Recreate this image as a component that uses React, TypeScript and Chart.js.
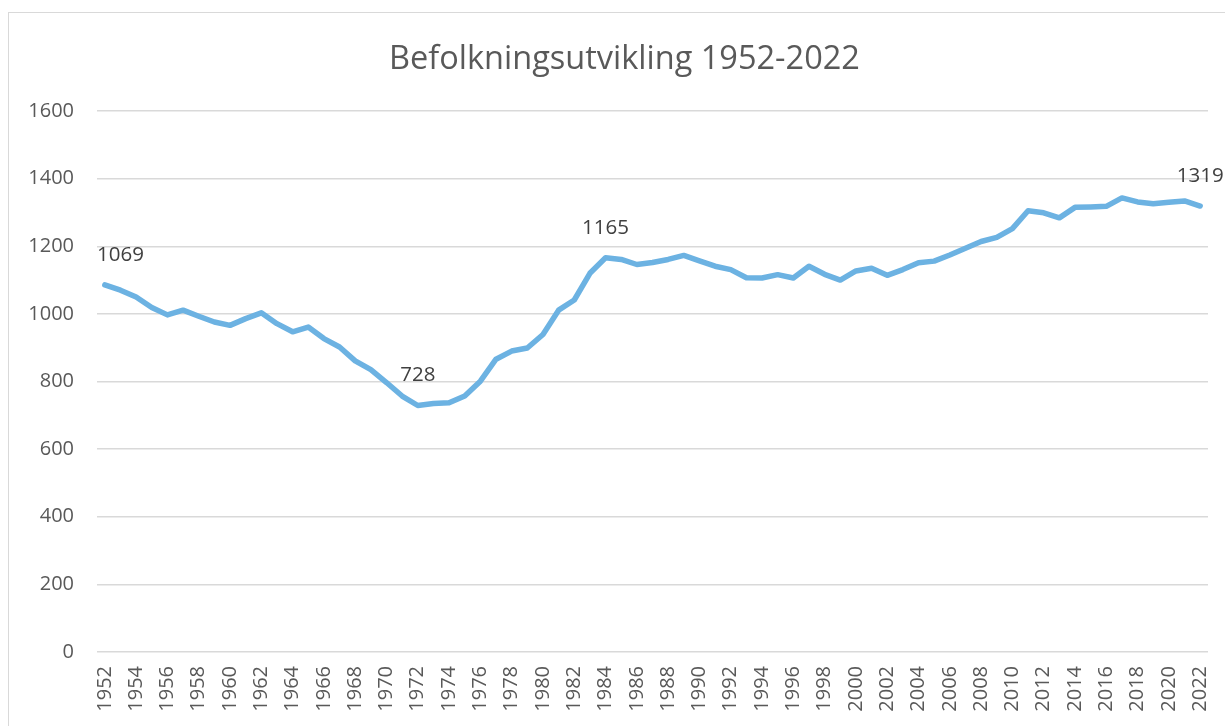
import React, { useEffect, useRef } from "react";
import { Chart, registerables } from "chart.js";

Chart.register(...registerables);

const years: string[] = [];
for (let y = 1952; y <= 2022; y++) years.push(String(y));

const population: number[] = [
  1086, 1070, 1050, 1019, 997, 1011, 993, 976, 966, 986,
  1003, 971, 947, 961, 927, 902, 861, 835, 797, 757,
  729, 735, 737, 757, 801, 866, 890, 899, 939, 1011,
  1041, 1120, 1166, 1161, 1146, 1152, 1161, 1173, 1157, 1141,
  1131, 1107, 1106, 1116, 1106, 1141, 1117, 1100, 1127, 1135,
  1114, 1131, 1151, 1156, 1174, 1194, 1214, 1226, 1252, 1305,
  1299, 1284, 1315, 1316, 1318, 1343, 1331, 1326, 1330, 1334,
  1319,
];

const labelYears = ["1952", "1972", "1984", "2022"];
const labelTexts = ["1069", "728", "1165", "1319"];

const yTicks = [0, 200, 400, 600, 800, 1000, 1200, 1400, 1600];

const TITLE = "Befolkningsutvikling 1952-2022";

const FONT = "'Open Sans', 'Noto Sans', sans-serif";

const titlePlugin = {
  id: "frameTitle",
  afterDraw(chart: any) {
    const ctx = chart.ctx;
    ctx.save();
    ctx.font = `32.5px ${FONT}`;
    ctx.fillStyle = "#595959";
    ctx.textAlign = "center";
    ctx.textBaseline = "middle";
    ctx.fillText(TITLE, chart.width / 2 + 12, 59.5);
    ctx.restore();
  },
};

const dataLabelPlugin = {
  id: "dataLabels",
  afterDatasetsDraw(chart: any) {
    const ctx = chart.ctx;
    const meta = chart.getDatasetMeta(0);
    const area = chart.chartArea;
    ctx.save();
    ctx.font = `20.5px ${FONT}`;
    ctx.fillStyle = "#404040";
    ctx.textAlign = "center";
    ctx.textBaseline = "middle";
    labelYears.forEach((yr, k) => {
      const idx = years.indexOf(yr);
      const pt = meta.data[idx];
      if (!pt) return;
      const text = labelTexts[k];
      const w = ctx.measureText(text).width;
      let x = pt.x;
      if (x - w / 2 < area.left) x = area.left + w / 2;
      ctx.fillText(text, x, pt.y - 30);
    });
    ctx.restore();
  },
};

export default function App() {
  const ref = useRef<HTMLCanvasElement | null>(null);

  useEffect(() => {
    if (!ref.current) return;
    const chart = new Chart(ref.current, {
      type: "line",
      data: {
        labels: years,
        datasets: [
          {
            data: population,
            borderColor: "#6cb2e2",
            borderWidth: 5.5,
            pointRadius: 0,
            tension: 0,
            fill: false,
            borderJoinStyle: "round",
            borderCapStyle: "round",
          },
        ],
      },
      options: {
        animation: false,
        responsive: false,
        layout: { padding: { top: 111, right: 17, bottom: 0, left: 0 } },
        plugins: {
          legend: { display: false },
          tooltip: { enabled: false },
          title: { display: false },
        },
        scales: {
          x: {
            offset: true,
            grid: { display: false, drawTicks: false },
            border: { display: false },
            afterFit(scale: any) {
              scale.height = 74;
              scale.paddingLeft = 0;
              scale.paddingRight = 0;
            },
            ticks: {
              autoSkip: false,
              maxRotation: 90,
              minRotation: 90,
              padding: 14,
              color: "#595959",
              font: { family: FONT, size: 20 },
              callback: (_v: any, i: number) => (i % 2 === 0 ? years[i] : ""),
            },
          },
          y: {
            min: 0,
            max: 1600,
            afterBuildTicks(scale: any) {
              scale.ticks = yTicks.map((v) => ({ value: v }));
            },
            afterFit(scale: any) {
              scale.width = 97;
              scale.paddingTop = 0;
              scale.paddingBottom = 0;
            },
            grid: { color: "#d9d9d9", lineWidth: 1.5, drawTicks: false },
            border: { display: false },
            ticks: {
              padding: 23,
              color: "#595959",
              font: { family: FONT, size: 20 },
              callback: (v: any) => String(v),
            },
          },
        },
      },
      plugins: [dataLabelPlugin, titlePlugin],
    });
    return () => chart.destroy();
  }, []);

  return (
    <div style={{ position: "fixed", left: 0, top: 0, width: 1225, height: 726, background: "#fff", overflow: "hidden" }}>
      <div
        style={{
          position: "absolute",
          left: 8,
          top: 12,
          width: 1300,
          height: 800,
          border: "1.5px solid #d9d9d9",
        }}
      />
      <canvas ref={ref} width={1225} height={726} style={{ position: "absolute", left: 0, top: 0 }} />
    </div>
  );
}
